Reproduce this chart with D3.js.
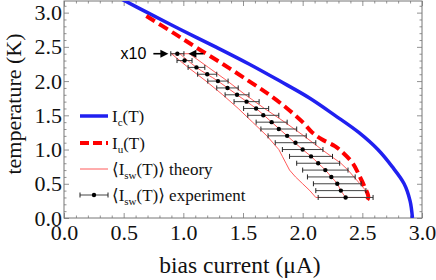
<!DOCTYPE html>
<html>
<head>
<meta charset="utf-8">
<script src="https://cdn.jsdelivr.net/npm/d3@7"></script>
<style>
  body { margin: 0; background: #fff; }
  svg { display: block; }
  .serif { font-family: "Liberation Serif", "DejaVu Serif", serif; }
  .sans { font-family: "Liberation Sans", Arial, sans-serif; }
</style>
</head>
<body>
<div id="chart"></div>
<script>
// critical current I_c(T), solid blue
const icT = [0, 0.25, 0.5, 0.75, 1.0, 1.25, 1.5, 1.75, 2.0, 2.25, 2.5, 2.75, 3.0, 3.2];
const icI = [2.92, 2.90, 2.85, 2.75, 2.63, 2.47, 2.27, 2.06, 1.81, 1.55, 1.27, 0.98, 0.70, 0.48];

// I_u(T), dashed red
const iuT = [2.95, 2.7, 2.5, 2.25, 2.0, 1.8, 1.6, 1.4, 1.25, 1.15, 1.05, 0.95, 0.8, 0.6, 0.45, 0.3, 0.22];
const iuI = [0.69, 0.92, 1.10, 1.33, 1.55, 1.72, 1.87, 2.0, 2.08, 2.16, 2.27, 2.34, 2.42, 2.48, 2.52, 2.55, 2.52];

// theory band: lower edge, mean, upper edge
const thT    = [2.4, 2.2, 2.0, 1.8, 1.6, 1.4, 1.2, 1.0, 0.9, 0.8, 0.7, 0.6, 0.5, 0.4, 0.3];
const thLo   = [0.90, 1.04, 1.19, 1.33, 1.46, 1.58, 1.70, 1.80, 1.83, 1.86, 1.89, 1.94, 2.00, 2.06, 2.11];
const thMean = [0.97, 1.11, 1.29, 1.45, 1.61, 1.74, 1.87, 2.00, 2.07, 2.13, 2.19, 2.24, 2.29, 2.32, 2.36];
const thHi   = [1.05, 1.21, 1.37, 1.52, 1.68, 1.85, 2.01, 2.16, 2.24, 2.32, 2.38, 2.43, 2.48, 2.53, 2.56];

// experiment: mean switching current and error half-widths
const expT = [2.4, 2.3, 2.2, 2.1, 2.0, 1.9, 1.8, 1.7, 1.6, 1.5, 1.4, 1.3, 1.2, 1.1, 1.0, 0.9, 0.8, 0.7, 0.6, 0.5, 0.4, 0.3];
const expI = [0.95, 1.01, 1.11, 1.20, 1.29, 1.37, 1.45, 1.53, 1.61, 1.67, 1.74, 1.80, 1.87, 1.94, 2.00, 2.07, 2.13, 2.19, 2.24, 2.29, 2.32, 2.36];
const expErr = [0.055, 0.063, 0.07, 0.08, 0.085, 0.09, 0.10, 0.105, 0.105, 0.13, 0.13, 0.15, 0.16, 0.17, 0.17, 0.18, 0.18, 0.19, 0.20, 0.20, 0.21, 0.23];

const xTicks = [0, 0.5, 1.0, 1.5, 2.0, 2.5, 3.0];
const yTicks = [0, 0.5, 1.0, 1.5, 2.0, 2.5, 3.0];

const W = 436, H = 280;

const x = d3.scaleLinear().domain([0, 3]).range([64, 422]);
const y = d3.scaleLinear().domain([0, 3.17]).range([218, 1]);

const svg = d3.select("#chart").append("svg")
    .attr("width", W)
    .attr("height", H);

svg.append("defs").append("clipPath").attr("id", "plotclip")
  .append("rect")
    .attr("x", x(0)).attr("y", y(3.17))
    .attr("width", x(3) - x(0)).attr("height", y(0) - y(3.17));

// frame ticks (inward, major + minor)
const minorX = d3.range(0, 3.001, 0.1).filter(v => Math.abs(v * 2 - Math.round(v * 2)) > 1e-6);
const minorY = d3.range(0, 3.17, 0.1).filter(v => Math.abs(v * 2 - Math.round(v * 2)) > 1e-6);

function styleAxis(g) {
    g.attr("font-family", null).attr("font-size", null);
    g.select(".domain").remove();
    g.selectAll(".tick line").attr("stroke", "#777").attr("stroke-width", 0.8);
    g.selectAll("text").attr("class", "serif").style("font-size", "22px").attr("fill", "#111");
}

svg.append("g").attr("transform", `translate(0,${y(0)})`)
    .call(d3.axisBottom(x).tickValues(xTicks).tickSize(-5).tickPadding(6).tickFormat(d3.format(".1f")))
    .call(styleAxis);
svg.append("g").attr("transform", `translate(0,${y(0)})`)
    .call(d3.axisBottom(x).tickValues(minorX).tickSize(-2.5).tickFormat(""))
    .call(styleAxis);
svg.append("g").attr("transform", `translate(0,${y(3.17)})`)
    .call(d3.axisTop(x).tickValues(xTicks).tickSize(-5).tickFormat(""))
    .call(styleAxis);
svg.append("g").attr("transform", `translate(0,${y(3.17)})`)
    .call(d3.axisTop(x).tickValues(minorX).tickSize(-2.5).tickFormat(""))
    .call(styleAxis);

svg.append("g").attr("transform", `translate(${x(0)},0)`)
    .call(d3.axisLeft(y).tickValues(yTicks).tickSize(-5).tickPadding(2).tickFormat(d3.format(".1f")))
    .call(styleAxis);
svg.append("g").attr("transform", `translate(${x(0)},0)`)
    .call(d3.axisLeft(y).tickValues(minorY).tickSize(-2.5).tickFormat(""))
    .call(styleAxis);
svg.append("g").attr("transform", `translate(${x(3)},0)`)
    .call(d3.axisRight(y).tickValues(yTicks).tickSize(-5).tickFormat(""))
    .call(styleAxis);
svg.append("g").attr("transform", `translate(${x(3)},0)`)
    .call(d3.axisRight(y).tickValues(minorY).tickSize(-2.5).tickFormat(""))
    .call(styleAxis);

// frame
svg.append("rect")
    .attr("x", x(0)).attr("y", y(3.17))
    .attr("width", x(3) - x(0)).attr("height", y(0) - y(3.17))
    .attr("fill", "none").attr("stroke", "#777").attr("stroke-width", 1);

const plot = svg.append("g").attr("clip-path", "url(#plotclip)");

const lineXY = d3.line().x(d => x(d[0])).y(d => y(d[1])).curve(d3.curveCatmullRom);

// theory band (closed outline) + mean
const band = thLo.map((v, i) => [v, thT[i]]).concat(thHi.map((v, i) => [v, thT[i]]).reverse());
plot.append("path")
    .attr("d", d3.line().x(d => x(d[0])).y(d => y(d[1])).curve(d3.curveLinearClosed)(band))
    .attr("fill", "none").attr("stroke", "#ff3030").attr("stroke-width", 0.8);
plot.append("path")
    .attr("d", lineXY(thMean.map((v, i) => [v, thT[i]])))
    .attr("fill", "none").attr("stroke", "#ff3030").attr("stroke-width", 0.8);

// I_c
plot.append("path")
    .attr("d", lineXY(icI.map((v, i) => [v, icT[i]])))
    .attr("fill", "none").attr("stroke", "#2020f0").attr("stroke-width", 3.5);

// I_u
plot.append("path")
    .attr("d", lineXY(iuI.map((v, i) => [v, iuT[i]])))
    .attr("fill", "none").attr("stroke", "#ff0000").attr("stroke-width", 4)
    .attr("stroke-dasharray", "10,5");

// experiment with error bars
const pts = plot.selectAll(".pt").data(expT.map((t, i) => ({ t, i: expI[i], e: expErr[i] })))
  .enter().append("g").attr("class", "pt");
pts.append("line")
    .attr("x1", d => x(d.i - d.e)).attr("x2", d => x(d.i + d.e))
    .attr("y1", d => y(d.t)).attr("y2", d => y(d.t))
    .attr("stroke", "#444").attr("stroke-width", 1);
pts.append("line")
    .attr("x1", d => x(d.i - d.e)).attr("x2", d => x(d.i - d.e))
    .attr("y1", d => y(d.t) - 2.5).attr("y2", d => y(d.t) + 2.5)
    .attr("stroke", "#222").attr("stroke-width", 1);
pts.append("line")
    .attr("x1", d => x(d.i + d.e)).attr("x2", d => x(d.i + d.e))
    .attr("y1", d => y(d.t) - 2.5).attr("y2", d => y(d.t) + 2.5)
    .attr("stroke", "#222").attr("stroke-width", 1);
pts.append("circle")
    .attr("cx", d => x(d.i)).attr("cy", d => y(d.t)).attr("r", 2.2)
    .attr("fill", "#000");

// "x10" marker on the first point
const ax = x(expI[0]), ay = y(expT[0]);
function arrow(x1, x2) {
    const dir = Math.sign(x2 - x1);
    svg.append("line").attr("x1", x1).attr("x2", x2 - dir * 5).attr("y1", ay).attr("y2", ay)
        .attr("stroke", "#000").attr("stroke-width", 1.6);
    svg.append("path")
        .attr("d", `M${x2},${ay} L${x2 - dir * 8},${ay - 4} L${x2 - dir * 8},${ay + 4} Z`)
        .attr("fill", "#000");
}
arrow(ax - 24, ax - 9);
arrow(ax + 26, ax + 11);
svg.append("text")
    .attr("class", "sans")
    .attr("x", ax - 31).attr("y", ay).attr("dy", "0.35em")
    .attr("text-anchor", "end")
    .style("font-size", "16px")
    .text("x10");

// legend
const legend = svg.append("g").attr("class", "serif").style("font-size", "17px").attr("fill", "#111");
const legRows = [
    { yy: 116, parts: [["I"], ["c", 1], ["(T)"]] },
    { yy: 143, parts: [["I"], ["u", 1], ["(T)"]] },
    { yy: 169, parts: [["\u27E8I"], ["sw", 1], ["(T)\u27E9 theory"]] },
    { yy: 195, parts: [["\u27E8I"], ["sw", 1], ["(T)\u27E9 experiment"]] }
];
const lx0 = 80, lx1 = 108;
legend.append("line").attr("x1", lx0).attr("x2", lx1).attr("y1", 116).attr("y2", 116)
    .attr("stroke", "#2020f0").attr("stroke-width", 3.5);
legend.append("line").attr("x1", lx0).attr("x2", lx1).attr("y1", 143).attr("y2", 143)
    .attr("stroke", "#ff0000").attr("stroke-width", 4).attr("stroke-dasharray", "9,4");
legend.append("line").attr("x1", lx0).attr("x2", lx1).attr("y1", 169).attr("y2", 169)
    .attr("stroke", "#ff3030").attr("stroke-width", 0.8);
legend.append("line").attr("x1", lx0).attr("x2", lx1).attr("y1", 195).attr("y2", 195)
    .attr("stroke", "#444").attr("stroke-width", 1);
[lx0, lx1].forEach(xx => legend.append("line").attr("x1", xx).attr("x2", xx)
    .attr("y1", 192.5).attr("y2", 197.5).attr("stroke", "#222"));
legend.append("circle").attr("cx", (lx0 + lx1) / 2).attr("cy", 195).attr("r", 2.2).attr("fill", "#000");

legRows.forEach(r => {
    const t = legend.append("text").attr("x", 112).attr("y", r.yy).attr("dy", "0.35em");
    r.parts.forEach((p, k) => {
        const s = t.append("tspan").text(p[0]);
        if (p[1]) s.style("font-size", "11px").attr("dy", 4);
        else if (k > 0) s.attr("dy", -4);
    });
});

// axis titles
svg.append("text")
    .attr("class", "serif")
    .attr("x", 240).attr("y", 273)
    .attr("text-anchor", "middle")
    .style("font-size", "23.5px").attr("fill", "#111")
    .text("bias current (\u03BCA)");
svg.append("text")
    .attr("class", "serif")
    .attr("transform", "translate(21,104) rotate(-90)")
    .attr("text-anchor", "middle")
    .style("font-size", "22px").attr("fill", "#111")
    .text("temperature (K)");
</script>
</body>
</html>
